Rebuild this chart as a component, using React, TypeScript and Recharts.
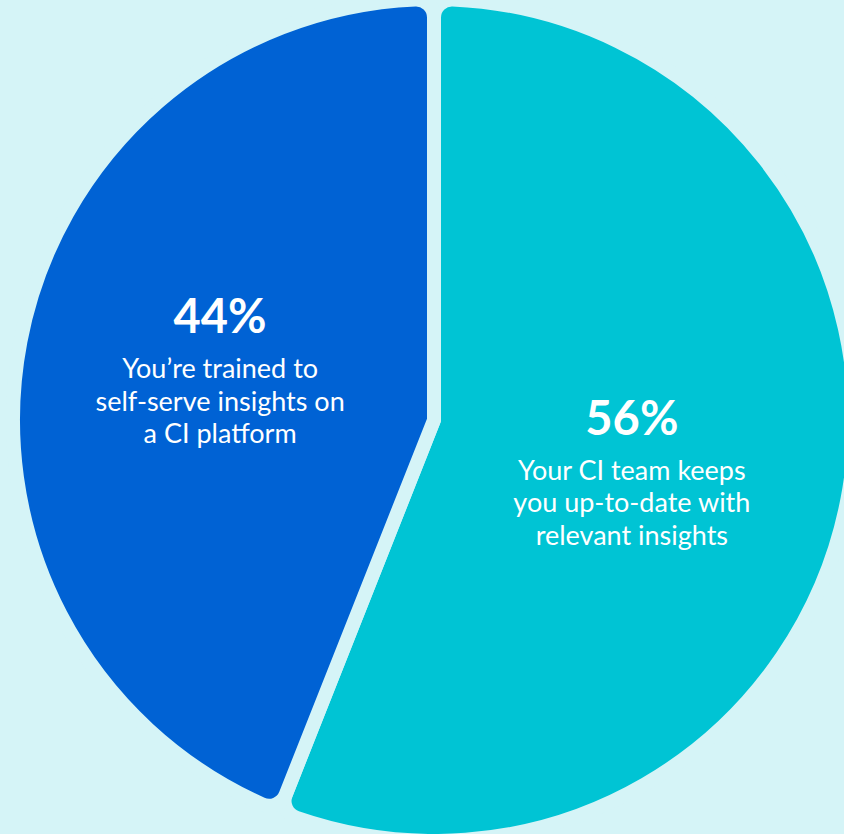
import { Cell, Pie, PieChart } from "recharts";

const sliceNames = ["Your CI team keeps you up-to-date", "You're trained to self-serve"];
const sliceValues = [56, 44];
const sliceLines = [
  ["Your CI team keeps", "you up-to-date with", "relevant insights"],
  ["You\u2019re trained to", "self-serve insights on", "a CI platform"],
];
const sliceColors = ["#00C4D4", "#0062D4"];

const BG = "#D5F4F7";
const RADIAN = Math.PI / 180;

const pieData = sliceNames.map((name, i) => ({
  name,
  value: sliceValues[i],
  lines: sliceLines[i],
}));

function renderLabel(props: any) {
  const { cx, cy, midAngle, index } = props;
  const r = 212;
  const angle = (midAngle - 3) * RADIAN;
  const x = cx + r * Math.cos(-angle) - 8;
  const y = cy + r * Math.sin(-angle);
  const lines = sliceLines[index];
  return (
    <g>
      <text
        x={x}
        y={y - 36}
        textAnchor="middle"
        fill="#fff"
        fontFamily="Lato, sans-serif"
        fontWeight={700}
        fontSize={47}
      >
        {sliceValues[index]}%
      </text>
      {lines.map((line, i) => (
        <text
          key={i}
          x={x}
          y={y + 9 + i * 32.5}
          textAnchor="middle"
          fill="#fff"
          fontFamily="Lato, sans-serif"
          fontWeight={400}
          fontSize={27}
        >
          {line}
        </text>
      ))}
    </g>
  );
}

export default function App() {
  return (
    <div
      style={{
        position: "absolute",
        left: 0,
        top: 0,
        width: 844,
        height: 834,
        background: BG,
        overflow: "hidden",
      }}
    >
      <PieChart width={844} height={834} margin={{ top: 0, right: 0, bottom: 0, left: 0 }}>
        <Pie
          data={pieData}
          dataKey="value"
          nameKey="name"
          cx={434}
          cy={420}
          outerRadius={421}
          startAngle={90}
          endAngle={-270}
          cornerRadius={18}
          stroke={BG}
          strokeWidth={14}
          strokeLinejoin="round"
          label={renderLabel}
          labelLine={false}
          isAnimationActive={false}
        >
          {pieData.map((_, i) => (
            <Cell key={i} fill={sliceColors[i]} />
          ))}
        </Pie>
      </PieChart>
    </div>
  );
}
